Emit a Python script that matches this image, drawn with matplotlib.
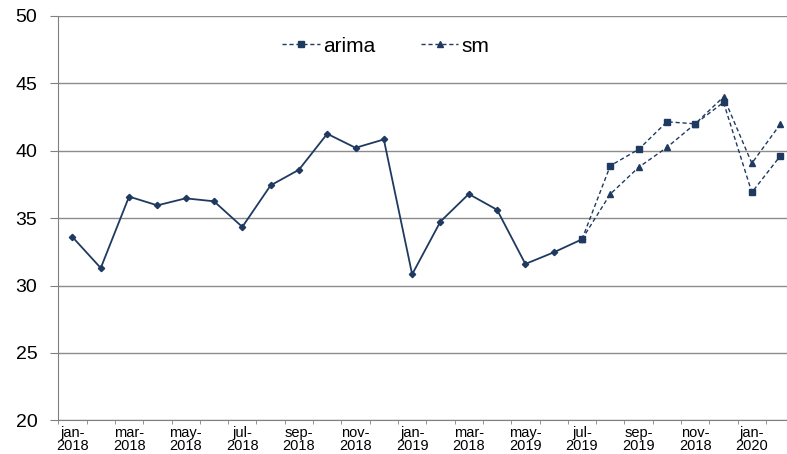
import matplotlib
matplotlib.use("Agg")
import matplotlib.pyplot as plt
import numpy as np

plt.rcParams['font.family'] = ['Liberation Sans', 'DejaVu Sans']

# months jan-2018 .. feb-2020 (one category each)
n_months = 26
tick_labels = ["jan-\n2018", "mar-\n2018", "may-\n2018", "jul-\n2018", "sep-\n2018",
               "nov-\n2018", "jan-\n2019", "mar-\n2018", "may-\n2019", "jul-\n2019",
               "sep-\n2019", "nov-\n2018", "jan-\n2020"]

# observed values jan-2018 .. jul-2019
actual = [33.6, 31.3, 36.6, 35.95, 36.47, 36.25, 34.35, 37.43, 38.59, 41.26,
          40.22, 40.84, 30.83, 34.75, 36.79, 35.62, 31.6, 32.46, 33.43]
# forecasts jul-2019 .. feb-2020
arima = [33.43, 38.89, 40.10, 42.15, 42.0, 43.59, 36.91, 39.6]
sm = [33.43, 36.79, 38.77, 40.25, 42.0, 44.0, 39.07, 41.96]

navy = '#1F3A60'

fig = plt.figure(figsize=(7.87, 4.54), dpi=100)
# plot area runs slightly past the right edge, like the cropped original
ax = fig.add_axes([58.3 / 787, 1 - 420.3 / 454, 736 / 787, (420.3 - 16) / 454])

x_act = np.arange(len(actual))
x_fc = np.arange(len(actual) - 1, len(actual) - 1 + len(arima))

ax.plot(x_act, actual, color=navy, lw=1.3, marker='D', ms=3.2, zorder=3)
ax.plot(x_fc, arima, color=navy, lw=1.0, ls=(0, (3, 2)), marker='s', ms=5,
        label='arima', zorder=3)
ax.plot(x_fc, sm, color=navy, lw=1.0, ls=(0, (3, 2)), marker='^', ms=5,
        label='sm', zorder=3)

ax.set_xlim(-0.5, n_months - 0.5)
ax.set_ylim(20, 50)
ax.set_yticks(np.arange(20, 51, 5))
ax.yaxis.grid(True, color='#8c8c8c', lw=1.0)
ax.set_axisbelow(True)

ax.set_xticks(np.arange(0, n_months - 1, 2))
ax.set_xticklabels(tick_labels, fontsize=10.5, linespacing=0.9)
ax.set_xticks(np.arange(-0.5, n_months, 1), minor=True)
ax.tick_params(axis='x', which='major', length=0, pad=4)
ax.tick_params(axis='x', which='minor', length=3, color='#808080', direction='out')
ax.tick_params(axis='y', length=6, color='#808080', pad=9, labelsize=14)

for s in ['top', 'right']:
    ax.spines[s].set_visible(False)
ax.spines['left'].set_color('#808080')
ax.spines['bottom'].set_color('#808080')

ax.legend(loc='upper center', bbox_to_anchor=(0.445, 0.995), ncol=2, frameon=False,
          fontsize=15, handlelength=1.8, handletextpad=0.15, columnspacing=2.2)

fig.savefig('out.png', dpi=100)
